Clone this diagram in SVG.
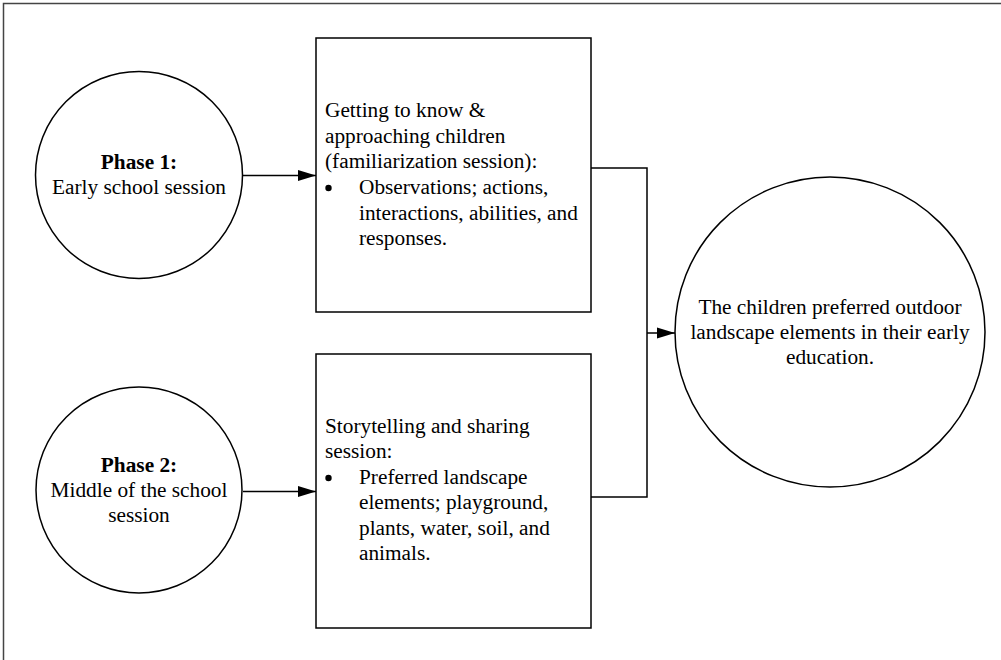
<svg xmlns="http://www.w3.org/2000/svg" width="1001" height="660" viewBox="0 0 1001 660">
<defs>
<style>
.shape{fill:#fff;stroke:#000;stroke-width:1.5}
.conn{fill:none;stroke:#000;stroke-width:1.5}
text{font-family:"Liberation Serif","Times New Roman",serif;font-size:21.3px;fill:#000}
.c{text-anchor:middle}
.b{font-weight:bold}
</style>
<marker id="arr" markerWidth="18" markerHeight="12" refX="18" refY="6" orient="auto" markerUnits="userSpaceOnUse">
<path d="M0,0.5 L18,6 L0,11.5 Z" fill="#000"/>
</marker>
</defs>
<rect x="0" y="0" width="1001" height="660" fill="#fff"/>
<rect x="3.5" y="3.5" width="1100" height="700" fill="none" stroke="#444" stroke-width="1.5"/>
<g id="connectors">
<line class="conn" x1="243" y1="175.5" x2="316" y2="175.5" marker-end="url(#arr)"/>
<line class="conn" x1="243" y1="491.5" x2="316" y2="491.5" marker-end="url(#arr)"/>
<polyline class="conn" points="591,168 647,168 647,497 591,497"/>
<line class="conn" x1="647" y1="333" x2="675" y2="333" marker-end="url(#arr)"/>
</g>
<g id="phase1">
<circle class="shape" cx="139" cy="175" r="103.5"/>
<text class="c b" x="139" y="169">Phase 1:</text>
<text class="c" x="139" y="194">Early school session</text>
</g>
<g id="phase2">
<circle class="shape" cx="139" cy="490" r="103"/>
<text class="c b" x="139" y="472">Phase 2:</text>
<text class="c" x="139" y="497">Middle of the school</text>
<text class="c" x="139" y="522">session</text>
</g>
<g id="box1">
<rect class="shape" x="316" y="38" width="275" height="274"/>
<text x="325" y="117">Getting to know &amp;</text>
<text x="325" y="143">approaching children</text>
<text x="325" y="168">(familiarization session):</text>
<circle cx="328.5" cy="188" r="3.2" fill="#000"/>
<text x="359" y="194">Observations; actions,</text>
<text x="359" y="220">interactions, abilities, and</text>
<text x="359" y="245">responses.</text>
</g>
<g id="box2">
<rect class="shape" x="316" y="354" width="275" height="274"/>
<text x="325" y="433">Storytelling and sharing</text>
<text x="325" y="458">session:</text>
<circle cx="328.5" cy="478" r="3.2" fill="#000"/>
<text x="359" y="484">Preferred landscape</text>
<text x="359" y="509">elements; playground,</text>
<text x="359" y="535">plants, water, soil, and</text>
<text x="359" y="560">animals.</text>
</g>
<g id="outcome">
<circle class="shape" cx="830" cy="332" r="155"/>
<text class="c" x="830" y="314">The children preferred outdoor</text>
<text class="c" x="830" y="339">landscape elements in their early</text>
<text class="c" x="830" y="364">education.</text>
</g>
</svg>
